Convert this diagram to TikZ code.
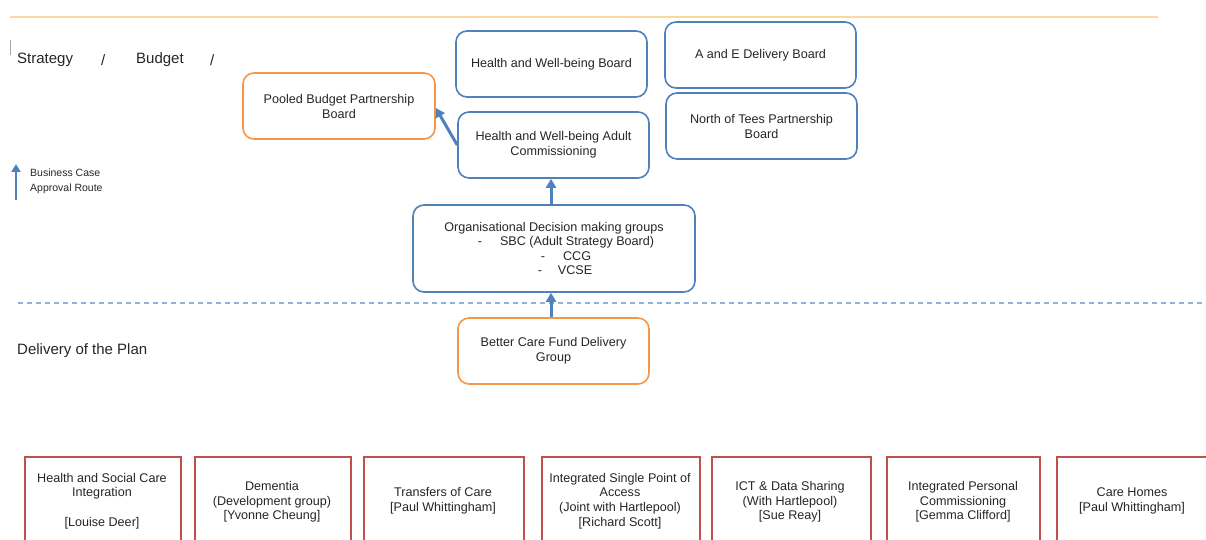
\documentclass[tikz,border=0pt]{standalone}
\usepackage{fontspec}
\setmainfont{Liberation Sans}
\usetikzlibrary{arrows.meta}
\definecolor{bblue}{HTML}{4F81BD}
\definecolor{borange}{HTML}{F79646}
\definecolor{bred}{HTML}{C0504D}
\definecolor{lorange}{HTML}{FAD9A0}
\definecolor{lblue}{HTML}{8DB3E2}
\definecolor{txt}{HTML}{262626}
\tikzset{
  board/.style={draw=#1, line width=1.6pt, rounded corners=11pt, fill=white,
    text=txt, align=center, font=\fontsize{12.6}{15}\selectfont, inner sep=0pt},
  task/.style={draw=bred, line width=1.6pt, fill=white, text=txt, align=center,
    font=\fontsize{12.6}{15}\selectfont, inner sep=0pt, anchor=north west},
  tasktext/.style={text=txt, align=center, font=\fontsize{12.6}{14.7}\selectfont, inner sep=0pt},
  route/.style={draw=bblue, line width=3pt, -{Triangle[width=10pt,length=9pt]}},
  head/.style={text=txt, font=\fontsize{15}{18}\selectfont, inner sep=0pt, anchor=west},
}
\begin{document}
\begin{tikzpicture}[x=1pt,y=-1pt]
\useasboundingbox (0,0) rectangle (1206,540);
\clip (0,0) rectangle (1206,540);
\fill[white] (0,0) rectangle (1206,540);
% separators
\draw[lorange, line width=1.5pt] (10,17) -- (1158,17);
\draw[gray!70, line width=0.6pt] (10,40) -- (10,55);
\draw[lblue, line width=1.2pt, dash pattern=on 5pt off 4pt] (18,303) -- (1206,303);
% headings
\node[head] (strat) at (17,60) {Strategy};
\node[head] (sl1) at (101,60) {/};
\node[head] (budg) at (136,60) {Budget};
\node[head] (sl2) at (210,60) {/};
\node[head] (deliv) at (17,351) {Delivery of the Plan};
% legend
\coordinate (lgA) at (16,200);
\coordinate (lgB) at (16,164);
\draw[draw=bblue, line width=2.6pt, -{Triangle[width=9pt,length=8pt]}] (lgA) -- (lgB);
\node[text=txt, font=\fontsize{10.5}{15}\selectfont, align=left, anchor=west, inner sep=0pt]
  (legend) at (30,181) {Business Case\\Approval Route};
% boards
\node[board=borange, minimum width=192pt, minimum height=66pt] (pool) at (339,106)
  {Pooled Budget Partnership\\Board};
\node[board=bblue, minimum width=191pt, minimum height=66pt] (hwb) at (551.5,64)
  {Health and Well-being Board};
\node[board=bblue, minimum width=191pt, minimum height=66pt] (hwbac) at (553.5,145)
  {Health and Well-being Adult\\Commissioning};
\node[board=bblue, minimum width=191pt, minimum height=66pt] (ae) at (760.5,55)
  {A and E Delivery Board};
\node[board=bblue, minimum width=191pt, minimum height=66pt] (nott) at (761.5,126)
  {North of Tees Partnership\\Board};
\node[board=bblue, minimum width=282pt, minimum height=87pt, font=\fontsize{12.6}{14.5}\selectfont] (org) at (554,248.5)
  {Organisational Decision making groups\\
   \hspace*{24pt}-\hspace{18pt}SBC (Adult Strategy Board)\\
   \hspace*{24pt}-\hspace{18pt}CCG\\
   \hspace*{22pt}-\hspace{16pt}VCSE};
\node[board=borange, minimum width=191pt, minimum height=66pt] (bcf) at (553.5,351)
  {Better Care Fund Delivery\\Group};
% connectors
\draw[route] (bcf.north -| 551,0) -- (org.south -| 551,0);
\draw[route] (org.north -| 551,0) -- (hwbac.south -| 551,0);
\draw[route] (hwbac.west) -- (pool.east |- 0,108);
% delivery work streams
\node[task, minimum width=156pt, minimum height=110pt] (t1) at (24,456) {};
\node[tasktext] (t1t) at (102,501) {Health and Social Care\\Integration\\[14.7pt][Louise Deer]};
\node[task, minimum width=156pt, minimum height=110pt] (t2) at (194,456) {};
\node[tasktext] (t2t) at (272,502) {Dementia\\(Development group)\\{[Yvonne Cheung]}};
\node[task, minimum width=160pt, minimum height=110pt] (t3) at (363,456) {};
\node[tasktext] (t3t) at (443,501) {Transfers of Care\\{[Paul Whittingham]}};
\node[task, minimum width=158pt, minimum height=110pt] (t4) at (541,456) {};
\node[tasktext] (t4t) at (620,501) {Integrated Single Point of\\Access\\(Joint with Hartlepool)\\{[Richard Scott]}};
\node[task, minimum width=159pt, minimum height=110pt] (t5) at (711,456) {};
\node[tasktext] (t5t) at (790,502) {ICT \& Data Sharing\\(With Hartlepool)\\{[Sue Reay]}};
\node[task, minimum width=153pt, minimum height=110pt] (t6) at (886,456) {};
\node[tasktext] (t6t) at (963,502) {Integrated Personal\\Commissioning\\{[Gemma Clifford]}};
\node[task, minimum width=160pt, minimum height=110pt] (t7) at (1056,456) {};
\node[tasktext] (t7t) at (1132,501) {Care Homes\\{[Paul Whittingham]}};
\end{tikzpicture}
\end{document}
